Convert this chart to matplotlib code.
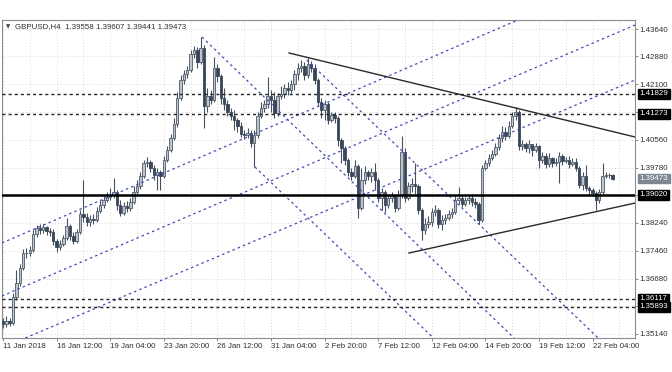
import matplotlib
matplotlib.use('Agg')
import matplotlib.pyplot as plt
import numpy as np

# GBPUSD H4, one bar per 4 hours from 11 Jan 2018 20:00
first_open = 1.3550
closes = [
    1.3542, 1.3550, 1.3545, 1.3617, 1.3656, 1.3698, 1.3740, 1.3740, 1.3748, 1.3793,
    1.3809, 1.3804, 1.3812, 1.3801, 1.3798, 1.3773, 1.3757, 1.3765, 1.3782, 1.3815,
    1.3787, 1.3773, 1.3798, 1.3848, 1.3840, 1.3826, 1.3835, 1.3832, 1.3857, 1.3874,
    1.3887, 1.3896, 1.3901, 1.3910, 1.3874, 1.3851, 1.3871, 1.3865, 1.3882, 1.3910,
    1.3927, 1.3954, 1.3991, 1.3993, 1.3977, 1.3957, 1.3966, 1.3954, 1.3999, 1.4027,
    1.4060, 1.4099, 1.4172, 1.4222, 1.4239, 1.4250, 1.4294, 1.4305, 1.4272, 1.4311,
    1.4149, 1.4177, 1.4166, 1.4255, 1.4233, 1.4172, 1.4155, 1.4133, 1.4122, 1.4110,
    1.4094, 1.4072, 1.4069, 1.4074, 1.4046, 1.4069, 1.4122, 1.4144, 1.4155, 1.4177,
    1.4166, 1.4130, 1.4177, 1.4183, 1.4200, 1.4194, 1.4211, 1.4239, 1.4255, 1.4261,
    1.4236, 1.4266, 1.4255, 1.4222, 1.4161, 1.4138, 1.4155, 1.4110, 1.4124, 1.4116,
    1.4055, 1.4032, 1.3999, 1.3966, 1.3954, 1.3982, 1.3865, 1.3943, 1.3966, 1.3954,
    1.3966, 1.3943, 1.3893, 1.3910, 1.3874, 1.3893, 1.3899, 1.3865, 1.3901, 1.4021,
    1.3893, 1.3927, 1.3932, 1.3927, 1.3860, 1.3804, 1.3821, 1.3826, 1.3854, 1.3860,
    1.3821, 1.3832, 1.3837, 1.3848, 1.3854, 1.3887, 1.3893, 1.3876, 1.3887, 1.3893,
    1.3882, 1.3876, 1.3832, 1.3977, 1.3991, 1.4005, 1.4016, 1.4036, 1.4060, 1.4077,
    1.4066, 1.4094, 1.4122, 1.4133, 1.4038, 1.4044, 1.4032, 1.4044, 1.4027, 1.4038,
    1.3999, 1.4010, 1.3988, 1.4005, 1.3991, 1.3993, 1.4010, 1.3996, 1.3999, 1.3988,
    1.3993, 1.3977, 1.3929, 1.3954, 1.3921, 1.3915, 1.3907, 1.3887, 1.3910, 1.3954,
    1.3957, 1.39558, 1.39473]
highs = [
    1.3559, 1.3564, 1.3559, 1.3628, 1.3692, 1.3709, 1.3751, 1.3754, 1.3759, 1.3804,
    1.3818, 1.3821, 1.3821, 1.3815, 1.3809, 1.3807, 1.3779, 1.3776, 1.3790, 1.3837,
    1.3821, 1.3798, 1.3807, 1.3860, 1.3943, 1.3851, 1.3846, 1.3848, 1.3868, 1.3887,
    1.3899, 1.3910, 1.3921, 1.3949, 1.3915, 1.3887, 1.3882, 1.3885, 1.3893, 1.3927,
    1.3943, 1.3966, 1.3999, 1.4007, 1.3999, 1.3985, 1.3977, 1.3971, 1.4010, 1.4038,
    1.4071, 1.4116, 1.4189, 1.4236, 1.4250, 1.4261, 1.4305, 1.4317, 1.4314, 1.4342,
    1.4320, 1.4200, 1.4194, 1.4286, 1.4266, 1.4239, 1.4200, 1.4166, 1.4144, 1.4138,
    1.4116, 1.4105, 1.4083, 1.4088, 1.4083, 1.4083, 1.4133, 1.4161, 1.4166, 1.4230,
    1.4194, 1.4189, 1.4186, 1.4205, 1.4211, 1.4216, 1.4222, 1.4250, 1.4269, 1.4278,
    1.4272, 1.4283, 1.4275, 1.4266, 1.4227, 1.4172, 1.4166, 1.4161, 1.4133, 1.4133,
    1.4122, 1.4060, 1.4038, 1.4005, 1.3977, 1.3999, 1.3988, 1.3977, 1.3982, 1.3971,
    1.3977, 1.3991, 1.3949, 1.3921, 1.3915, 1.3901, 1.3910, 1.3904, 1.3915, 1.4066,
    1.4032, 1.3938, 1.3949, 1.3991, 1.3932, 1.3865, 1.3837, 1.3843, 1.3865, 1.3874,
    1.3865, 1.3846, 1.3848, 1.3860, 1.3865, 1.3899, 1.3924, 1.3899, 1.3896, 1.3901,
    1.3904, 1.3893, 1.3882, 1.3985, 1.3999, 1.4016, 1.4027, 1.4047, 1.4071, 1.4094,
    1.4091, 1.4108, 1.4133, 1.4147, 1.4138, 1.4055, 1.4049, 1.4055, 1.4044, 1.4047,
    1.4041, 1.4021, 1.4018, 1.4018, 1.4007, 1.4005, 1.4021, 1.4016, 1.4007, 1.4010,
    1.4005, 1.4005, 1.3982, 1.3966, 1.3985, 1.3927, 1.3921, 1.3913, 1.3918, 1.3991,
    1.3966, 1.3964, 1.39607]
lows = [
    1.3531, 1.3534, 1.3536, 1.3539, 1.3609, 1.3648, 1.3692, 1.3726, 1.3731, 1.3743,
    1.3784, 1.3793, 1.3795, 1.3790, 1.3787, 1.3762, 1.3743, 1.3748, 1.3759, 1.3776,
    1.3776, 1.3765, 1.3768, 1.3793, 1.3826, 1.3815, 1.3815, 1.3821, 1.3826, 1.3851,
    1.3865, 1.3882, 1.3887, 1.3893, 1.3860, 1.3843, 1.3846, 1.3854, 1.3857, 1.3876,
    1.3904, 1.3918, 1.3949, 1.3979, 1.3966, 1.3943, 1.3915, 1.3915, 1.3949, 1.3993,
    1.4021, 1.4055, 1.4091, 1.4166, 1.4211, 1.4227, 1.4244, 1.4283, 1.4255, 1.4266,
    1.4089, 1.4133, 1.4155, 1.4161, 1.4216, 1.4155, 1.4138, 1.4122, 1.4110, 1.4083,
    1.4077, 1.4064, 1.4058, 1.4060, 1.4035, 1.3979, 1.4060, 1.4116, 1.4133, 1.4144,
    1.4133, 1.4116, 1.4122, 1.4169, 1.4172, 1.4180, 1.4186, 1.4194, 1.4222, 1.4244,
    1.4222, 1.4227, 1.4244, 1.4211, 1.4149, 1.4116, 1.4110, 1.4099, 1.4105, 1.4102,
    1.4038, 1.3991, 1.3985, 1.3954, 1.3943, 1.3949, 1.3837, 1.3860, 1.3932, 1.3943,
    1.3938, 1.3915, 1.3882, 1.3860, 1.3854, 1.3865, 1.3882, 1.3854, 1.3860, 1.3893,
    1.3882, 1.3887, 1.3910, 1.3904, 1.3848, 1.3776, 1.3793, 1.3810, 1.3815, 1.3843,
    1.3810, 1.3804, 1.3821, 1.3832, 1.3837, 1.3848, 1.3876, 1.3868, 1.3871, 1.3876,
    1.3871, 1.3865, 1.3821, 1.3826, 1.3971, 1.3982, 1.3999, 1.4010, 1.4027, 1.4049,
    1.4055, 1.4060, 1.4088, 1.4110, 1.4027, 1.4027, 1.4021, 1.4018, 1.4010, 1.4021,
    1.3977, 1.3991, 1.3977, 1.3979, 1.3979, 1.3982, 1.3935, 1.3985, 1.3991, 1.3977,
    1.3982, 1.3968, 1.3921, 1.3915, 1.3912, 1.3904, 1.3899, 1.3860, 1.3880, 1.3904,
    1.3949, 1.3950, 1.39441]

date_ticks = [0, 16, 32, 48, 64, 80, 96, 112, 128, 144, 160, 176]
date_labels = ['11 Jan 2018', '16 Jan 12:00', '19 Jan 04:00', '23 Jan 20:00',
               '26 Jan 12:00', '31 Jan 04:00', '2 Feb 20:00', '7 Feb 12:00',
               '12 Feb 04:00', '14 Feb 20:00', '19 Feb 12:00', '22 Feb 04:00']
price_ticks = [1.43640, 1.42880, 1.42100, 1.41330, 1.40560, 1.39780,
               1.39010, 1.38240, 1.37460, 1.36680, 1.35910, 1.35140]
hidden_ticks = [1.41330, 1.39010, 1.35910]

dashed_levels = [1.41829, 1.41273, 1.36117, 1.35893]
support_level = 1.39020
last_price = 1.39473

# channel lines (bar index, price) - rising ones are infinite, falling ones start at pivots
rising_lines = [((-0.3, 1.37676), (153.7, 1.43891)),
                ((-0.3, 1.36199), (188.66, 1.43751)),
                ((8.06, 1.35084), (188.66, 1.42218))]
falling_lines = [((75.2, 1.39794), (126.9, 1.35169)),
                 ((59.4, 1.43417), (151.0, 1.35167)),
                 ((90.7, 1.42776), (176.1, 1.35167))]
trend_lines = [((85.4, 1.42971), (188.7, 1.40630)),
               ((121.2, 1.37397), (188.7, 1.38790))]

plt.rcParams['font.family'] = ['Liberation Sans', 'DejaVu Sans']
fs = 5.7
txt_col = '#303030'

fig = plt.figure(figsize=(6.72, 3.72), dpi=100)
ax = fig.add_axes([2/672, 34/372, 633/672, 318/372])

n = len(closes)
bars = np.arange(n)
c = np.array(closes)
o = np.array([first_open] + closes[:-1])
h = np.maximum(np.array(highs), np.maximum(o, c))
l = np.minimum(np.array(lows), np.minimum(o, c))
up = c >= o
bottom = np.minimum(o, c)
height = np.maximum(np.abs(c - o), 0.00006)

ax.vlines(bars, l, h, color='#46515e', lw=0.8, zorder=3)
ax.bar(bars[up], height[up], bottom=bottom[up], width=0.72,
       color='#bfc3ca', edgecolor='#4f5b68', lw=0.6, zorder=4)
ax.bar(bars[~up], height[~up], bottom=bottom[~up], width=0.72,
       color='#3a4758', edgecolor='#3a4758', lw=0.6, zorder=4)

blue = '#4848b4'
for p0, p1 in rising_lines:
    ax.axline(p0, p1, color=blue, lw=0.9, ls=(0, (2, 2.5)), zorder=5)
for p0, p1 in falling_lines:
    ax.plot([p0[0], p0[0] + 3*(p1[0]-p0[0])], [p0[1], p0[1] + 3*(p1[1]-p0[1])],
            color=blue, lw=0.9, ls=(0, (2, 2.5)), zorder=5)
for p0, p1 in trend_lines:
    ax.plot([p0[0], p1[0]], [p0[1], p1[1]], color='#2a2a2a', lw=1.0, zorder=6)

for lv in dashed_levels:
    ax.axhline(lv, color='#222222', lw=1.0, ls=(0, (2.2, 2.2)), zorder=6)
ax.axhline(support_level, color='black', lw=1.8, zorder=6)

ax.set_xlim(-0.3, 188.66)
ax.set_ylim(1.35028, 1.43891)

ax.yaxis.tick_right()
ax.set_yticks(price_ticks)
ax.set_yticklabels(['' if t in hidden_ticks else '%.5f' % t for t in price_ticks])
ax.set_xticks(date_ticks)
ax.set_xticklabels(date_labels, ha='left')
ax.set_xticks([t + 8 for t in date_ticks], minor=True)
ax.tick_params(axis='both', which='major', labelsize=fs, colors='#777777',
               labelcolor=txt_col, length=2.2, width=0.6, pad=1.2)
ax.tick_params(axis='x', which='minor', length=0)
ax.grid(True, which='both', color='#cccccc', lw=0.6, ls=(0, (1, 2.5)), zorder=0)
for sp in ax.spines.values():
    sp.set_color('#8c8c8c')
    sp.set_linewidth(0.8)

for lv in dashed_levels + [support_level]:
    ax.annotate('%.5f' % lv, xy=(1, lv), xycoords=('axes fraction', 'data'),
                xytext=(3.3, 0), textcoords='offset points', ha='left', va='center',
                fontsize=fs, color='white', annotation_clip=False,
                bbox=dict(boxstyle='square,pad=0.18', fc='black', ec='black'))
ax.annotate('%.5f' % last_price, xy=(1, last_price), xycoords=('axes fraction', 'data'),
            xytext=(3.3, 0), textcoords='offset points', ha='left', va='center',
            fontsize=fs, color='white', annotation_clip=False,
            bbox=dict(boxstyle='square,pad=0.18', fc='#7d8794', ec='#7d8794'))

ax.text(0.006, 0.978, '\u25bc', transform=ax.transAxes, fontsize=4, color='#444444',
        va='center', ha='left', family=['DejaVu Sans'])
ax.text(0.02, 0.978, 'GBPUSD,H4  %.5f %.5f %.5f %.5f' % (o[-1], highs[-1], lows[-1], c[-1]),
        transform=ax.transAxes, fontsize=fs, color=txt_col, va='center', ha='left')

fig.savefig('out.png', dpi=100, facecolor='white')
